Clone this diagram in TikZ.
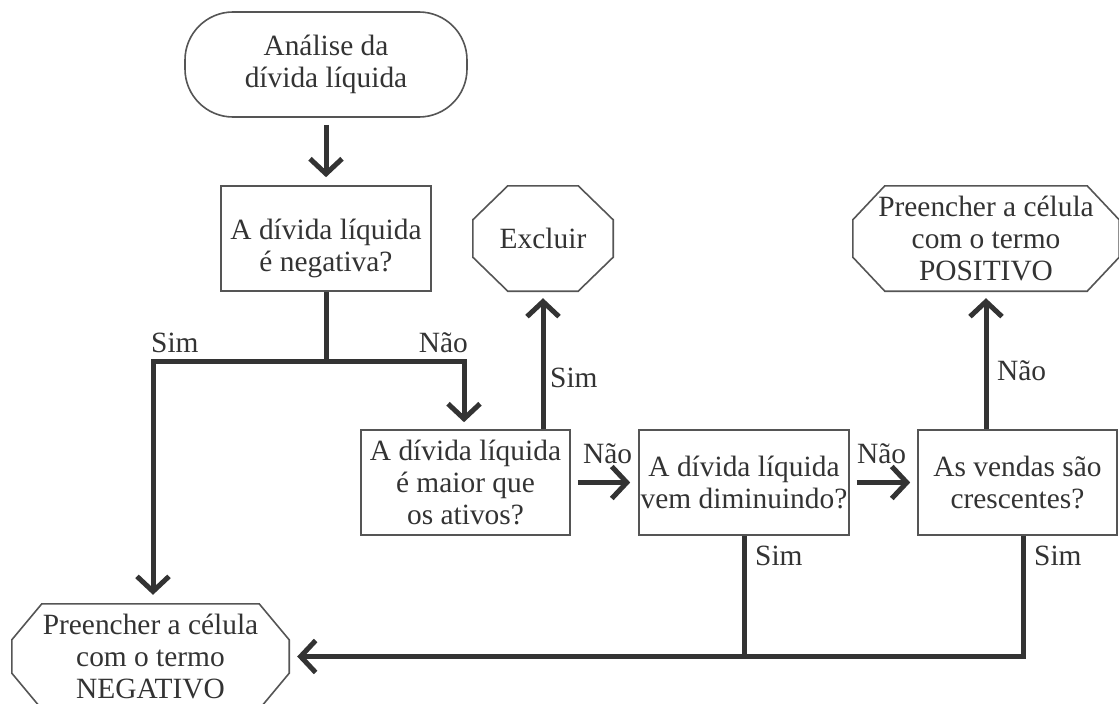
\documentclass[tikz,border=0pt]{standalone}
\usepackage{fontspec}
\setmainfont{Liberation Serif}
\usetikzlibrary{arrows.meta,calc}
\definecolor{ink}{HTML}{333333}
\definecolor{framecol}{HTML}{555555}
\newcommand{\octo}[3]{\draw[framed] ([xshift=#2]#1.north west) -- ([xshift=-#2]#1.north east) -- ([yshift=-#3]#1.north east) -- ([yshift=#3]#1.south east) -- ([xshift=-#2]#1.south east) -- ([xshift=#2]#1.south west) -- ([yshift=#3]#1.south west) -- ([yshift=-#3]#1.north west) -- cycle;}
\begin{document}
\begin{tikzpicture}[x=1pt,y=-1pt,
  font=\fontsize{29.4}{32}\selectfont, text=ink,
  qbox/.style={draw=framecol, line width=1.6pt, align=center, inner sep=0pt, minimum height=105pt},
  oct/.style={align=center, inner sep=0pt, minimum height=105pt},
  framed/.style={draw=framecol, line width=1.6pt},
  conn/.style={draw=ink, line width=5pt},
  arr/.style={conn, -{Straight Barb[length=15pt,width=32pt]}},
  lab/.style={inner sep=0pt}]
\fill[white] (0,0) rectangle (1119,704);
\useasboundingbox (0,0) rectangle (1119,704);

\node[qbox, minimum width=282pt, rounded corners=48pt] (start) at (326,64.5) {Análise da\\dívida líquida};
\node[qbox, minimum width=210pt] (q1) at (326,238.5) {\rule{0pt}{41pt}A dívida líquida\\é negativa?};
\node[qbox, minimum width=209pt] (q2) at (465.5,482.5) {A dívida líquida\\é maior que\\os ativos?};
\node[qbox, minimum width=210pt] (q3) at (744,482.5) {A dívida líquida\\vem diminuindo?};
\node[qbox, minimum width=199pt] (q4) at (1017.5,482.5) {As vendas são\\crescentes?};
\node[oct, minimum width=140pt] (excl) at (543,238.5) {Excluir};
\node[oct, minimum width=266pt] (pos) at (986,238.5) {Preencher a célula\\com o termo\\POSITIVO};
\node[oct, minimum width=277pt] (neg) at (150.5,656.5) {Preencher a célula\\com o termo\\NEGATIVO};
\octo{excl}{35pt}{34pt}
\octo{pos}{32pt}{34pt}
\octo{neg}{30pt}{36pt}

\coordinate (j) at (326,361);
\coordinate (jl) at (153,361);
\coordinate (jr) at (464,361);
\coordinate (q4s) at ([xshift=5.5pt]q4.south);

\draw[arr, shorten <=7pt, shorten >=8pt] (start) -- (q1);
\draw[conn] (q1.south) -- (j);
\draw[arr, shorten >=9pt] (j) -- (jl) -- (jl |- neg.north);
\draw[arr, shorten >=7pt] (j) -- (jr) -- (jr |- q2.north);
\draw[arr, shorten >=7pt] (excl.south |- q2.north) -- (excl.south);
\draw[arr, shorten <=7pt, shorten >=8pt] (q2) -- (q3);
\draw[arr, shorten <=7pt, shorten >=7pt] (q3) -- (q4);
\draw[arr, shorten >=7pt] (pos.south |- q4.north) -- (pos.south);
\draw[arr, shorten >=8pt] (q4s) |- (neg.east);
\draw[conn] (q3.south) -- (q3.south |- neg.east);

\node[lab, anchor=base west] (l1) at (151,352) {Sim};
\node[lab, anchor=base east] (l2) at (468,352) {Não};
\node[lab, anchor=base west] (l3) at (550,387) {Sim};
\node[lab, anchor=base west] (l4) at (583,463) {Não};
\node[lab, anchor=base west] (l5) at (857,463) {Não};
\node[lab, anchor=base west] (l6) at (997,380) {Não};
\node[lab, anchor=base west] (l7) at (755,565) {Sim};
\node[lab, anchor=base west] (l8) at (1034,565) {Sim};
\end{tikzpicture}
\end{document}
